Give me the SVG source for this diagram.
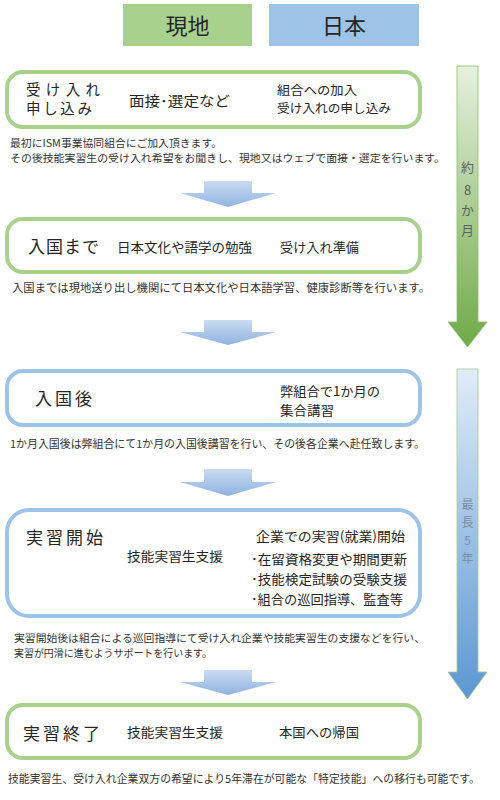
<svg xmlns="http://www.w3.org/2000/svg" width="500" height="800" viewBox="0 0 500 800">
<style>
text{font-family:"Noto Sans CJK JP","Noto Sans",sans-serif;fill:#262626}
.hd{font-size:22px;text-anchor:middle}
.big{font-size:17px}
.big2{font-size:14.5px}
.mid{font-size:14px}
.sm{font-size:13px}
.sm2{font-size:12.5px}
.desc{font-size:11px;fill:#333}
.desc2{font-size:10.5px;fill:#333}
.vt{font-size:13px;fill:#606060;text-anchor:middle}
.vtb{font-size:12px;fill:#7a8ca3;text-anchor:middle}
.gbox{fill:#fff;stroke:#a9d18e;stroke-width:4}
.bbox{fill:#fff;stroke:#9dc3e6;stroke-width:4}
.flow{fill:url(#dg)}
</style>
<defs>
<linearGradient id="dg" x1="0" y1="0" x2="0" y2="1">
<stop offset="0" stop-color="#c9dbf1"/>
<stop offset="1" stop-color="#8fb3e0"/>
</linearGradient>
<linearGradient id="gg" x1="0" y1="0" x2="0" y2="1">
<stop offset="0" stop-color="#e6f0de"/>
<stop offset="1" stop-color="#6faa48"/>
</linearGradient>
<linearGradient id="bg" x1="0" y1="0" x2="0" y2="1">
<stop offset="0" stop-color="#e1ecf8"/>
<stop offset="1" stop-color="#5b97d2"/>
</linearGradient>
</defs>

<g id="header-local">
<rect x="123" y="4" width="129" height="42" fill="#a9d18e"/>
<text class="hd" x="187.5" y="34">現地</text>
</g>
<g id="header-japan">
<rect x="269" y="4" width="150" height="42" fill="#9dc3e6"/>
<text class="hd" x="344" y="34">日本</text>
</g>

<g id="period-8months">
<polygon points="457,66 478,66 478,322 487,322 467.5,347 448,322 457,322" fill="url(#gg)" stroke="#8cbf6a" stroke-width="0.8"/>
<text class="vt" x="467.5" y="172">約</text>
<text class="vt" x="467.5" y="195">8</text>
<text class="vt" x="467.5" y="215">か</text>
<text class="vt" x="467.5" y="235">月</text>
</g>
<g id="period-5years">
<polygon points="457,369 478,369 478,672 487,672 467.5,699 448,672 457,672" fill="url(#bg)" stroke="#a3c88a" stroke-width="0.8"/>
<text class="vtb" x="467.5" y="509">最</text>
<text class="vtb" x="467.5" y="527">長</text>
<text class="vtb" x="467.5" y="545">5</text>
<text class="vtb" x="467.5" y="563">年</text>
</g>

<g id="connectors">
<polygon class="flow" points="204,181 252,181 252,193 276,193 228,207 180,193 204,193"/>
<polygon class="flow" points="204,320 252,320 252,332 276,332 228,345 180,332 204,332"/>
<polygon class="flow" points="204,469 252,469 252,482 276,482 228,496 180,482 204,482"/>
<polygon class="flow" points="204,670 252,670 252,682 276,682 228,695 180,682 204,682"/>
</g>

<g id="step1">
<rect class="gbox" x="7" y="72" width="413" height="55" rx="16"/>
<text class="big2" x="26" y="95" textLength="74" lengthAdjust="spacing">受け入れ</text>
<text class="big2" x="26" y="114" textLength="66" lengthAdjust="spacing">申し込み</text>
<text class="mid" x="129" y="106" textLength="101" lengthAdjust="spacingAndGlyphs">面接･選定など</text>
<text class="sm2" x="277" y="95" textLength="80" lengthAdjust="spacingAndGlyphs">組合への加入</text>
<text class="sm2" x="277" y="113" textLength="114" lengthAdjust="spacingAndGlyphs">受け入れの申し込み</text>
<text class="desc2" x="10" y="147" textLength="212" lengthAdjust="spacingAndGlyphs">最初にISM事業協同組合にご加入頂きます。</text>
<text class="desc2" x="10" y="162" textLength="435" lengthAdjust="spacingAndGlyphs">その後技能実習生の受け入れ希望をお聞きし、現地又はウェブで面接・選定を行います。</text>
</g>

<g id="step2">
<rect class="gbox" x="7" y="219" width="413" height="53" rx="16"/>
<text class="big" x="28" y="253" textLength="71" lengthAdjust="spacing">入国まで</text>
<text class="sm" x="117" y="252" textLength="135" lengthAdjust="spacingAndGlyphs">日本文化や語学の勉強</text>
<text class="sm" x="280" y="252" textLength="79" lengthAdjust="spacingAndGlyphs">受け入れ準備</text>
<text class="desc" x="12" y="292" textLength="418" lengthAdjust="spacingAndGlyphs">入国までは現地送り出し機関にて日本文化や日本語学習、健康診断等を行います。</text>
</g>

<g id="step3">
<rect class="bbox" x="7" y="371" width="413" height="54" rx="16"/>
<text class="big" x="35" y="405" textLength="57" lengthAdjust="spacing">入国後</text>
<text class="sm" x="280" y="396" textLength="100" lengthAdjust="spacingAndGlyphs">弊組合で1か月の</text>
<text class="sm" x="280" y="415" textLength="54" lengthAdjust="spacingAndGlyphs">集合講習</text>
<text class="desc" x="10" y="448" textLength="415" lengthAdjust="spacingAndGlyphs">1か月入国後は弊組合にて1か月の入国後講習を行い、その後各企業へ赴任致します。</text>
</g>

<g id="step4">
<rect class="bbox" x="7" y="510" width="413" height="106" rx="22"/>
<text class="big" x="26" y="544" textLength="77" lengthAdjust="spacing">実習開始</text>
<text class="sm" x="127" y="561" textLength="96" lengthAdjust="spacingAndGlyphs">技能実習生支援</text>
<text class="sm" x="256" y="541" textLength="149" lengthAdjust="spacingAndGlyphs">企業での実習(就業)開始</text>
<text class="sm" x="251" y="564" textLength="156" lengthAdjust="spacingAndGlyphs">･在留資格変更や期間更新</text>
<text class="sm" x="251" y="584" textLength="156" lengthAdjust="spacingAndGlyphs">･技能検定試験の受験支援</text>
<text class="sm" x="251" y="604" textLength="152" lengthAdjust="spacingAndGlyphs">･組合の巡回指導、監査等</text>
<text class="desc2" x="14" y="642" textLength="411" lengthAdjust="spacingAndGlyphs">実習開始後は組合による巡回指導にて受け入れ企業や技能実習生の支援などを行い、</text>
<text class="desc2" x="14" y="657" textLength="198" lengthAdjust="spacingAndGlyphs">実習が円滑に進むようサポートを行います。</text>
</g>

<g id="step5">
<rect class="gbox" x="7" y="705" width="413" height="53" rx="16"/>
<text class="big" x="23" y="740" textLength="77" lengthAdjust="spacing">実習終了</text>
<text class="sm" x="127" y="737" textLength="96" lengthAdjust="spacingAndGlyphs">技能実習生支援</text>
<text class="sm" x="279" y="737" textLength="80" lengthAdjust="spacingAndGlyphs">本国への帰国</text>
<text class="desc" x="8" y="783" textLength="472" lengthAdjust="spacingAndGlyphs">技能実習生、受け入れ企業双方の希望により5年滞在が可能な「特定技能」への移行も可能です。</text>
</g>
</svg>
